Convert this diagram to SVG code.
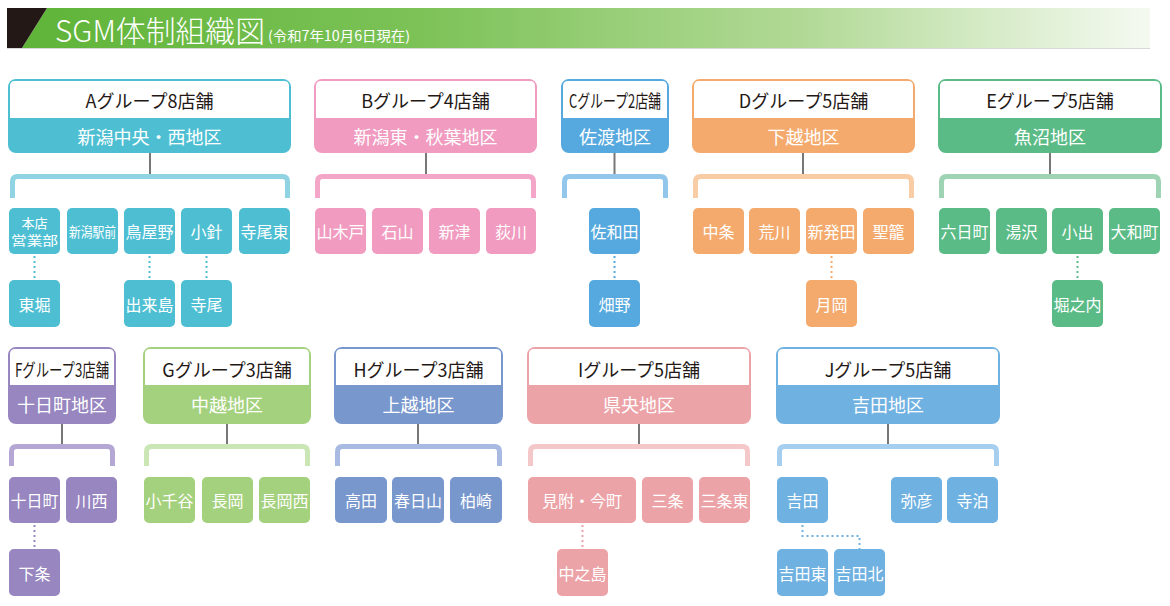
<svg xmlns="http://www.w3.org/2000/svg" width="1170" height="606" viewBox="0 0 1170 606">
<defs>
<linearGradient id="hdrG" x1="0" y1="0" x2="1" y2="0">
<stop offset="0" stop-color="#5fb438"/>
<stop offset="0.35" stop-color="#7cc257"/>
<stop offset="0.7" stop-color="#b3da98"/>
<stop offset="1" stop-color="#f5faf1"/>
</linearGradient>
</defs>
<style>
text{font-family:"Noto Sans CJK JP","Noto Sans",sans-serif;text-anchor:middle;dominant-baseline:central}
.ht{font-size:18px;fill:#231815}
.rt{font-size:18px;fill:#ffffff}
.ct{font-size:16px;fill:#ffffff}
.wh{fill:#ffffff}
.gl{stroke:#777777;stroke-width:2;fill:none}
.br{stroke-width:5;fill:none;stroke-linejoin:round}
.dt{stroke-width:2;fill:none;stroke-dasharray:2 3}
.A{fill:#4ebfd3;stroke:#4ebfd3}.Ab{stroke:#90d3e2}.Ad{stroke:#4ebfd3}
.B{fill:#f09bbf;stroke:#f09bbf}.Bb{stroke:#f3a6c7}
.C{fill:#56a9de;stroke:#56a9de}.Cb{stroke:#92c6eb}.Cd{stroke:#56a9de}
.D{fill:#f4aa6d;stroke:#f4aa6d}.Db{stroke:#f8cca5}.Dd{stroke:#f4aa6d}
.E{fill:#5abb86;stroke:#5abb86}.Eb{stroke:#9ed4b4}.Ed{stroke:#5abb86}
.F{fill:#9786bf;stroke:#9786bf}.Fb{stroke:#b4a7d3}.Fd{stroke:#9786bf}
.G{fill:#a4d17d;stroke:#a4d17d}.Gb{stroke:#cbe6b5}
.H{fill:#7897cd;stroke:#7897cd}.Hb{stroke:#a8bae2}
.I{fill:#eca3a7;stroke:#eca3a7}.Ib{stroke:#f4c7c9}.Id{stroke:#eca3a7}
.J{fill:#6fb1e1;stroke:#6fb1e1}.Jb{stroke:#a6ceee}.Jd{stroke:#6fb1e1}
.box{stroke-width:2}
.cb{stroke-width:0}
</style>

<g id="header">
<polygon points="47,8 1150,8 1150,48 22,48" fill="url(#hdrG)"/>
<polygon points="7,8 47,8 22,48 7,48" fill="#231815"/>
<line x1="7" y1="48.5" x2="1150" y2="48.5" stroke="#d8d8d8" stroke-width="1"/>
<text x="55" y="29" style="text-anchor:start;font-size:30px;font-weight:300;fill:#ffffff" textLength="210" lengthAdjust="spacingAndGlyphs">SGM体制組織図</text>
<text x="268" y="35" style="text-anchor:start;font-size:14px;fill:#ffffff" textLength="142" lengthAdjust="spacingAndGlyphs">(令和7年10月6日現在)</text>
</g>

<g id="connectors">
<line class="gl" x1="150" y1="153" x2="150" y2="175"/>
<path class="br Ab" d="M12.5,198 V181.5 Q12.5,176.5 17.5,176.5 H282.5 Q287.5,176.5 287.5,181.5 V198"/>
<line class="dt Ad" x1="34.5" y1="256" x2="34.5" y2="280"/>
<line class="dt Ad" x1="149.5" y1="256" x2="149.5" y2="280"/>
<line class="dt Ad" x1="206.5" y1="256" x2="206.5" y2="280"/>

<line class="gl" x1="426" y1="153" x2="426" y2="175"/>
<path class="br Bb" d="M317.5,198 V181.5 Q317.5,176.5 322.5,176.5 H528.5 Q533.5,176.5 533.5,181.5 V198"/>

<line class="gl" x1="614.5" y1="153" x2="614.5" y2="175"/>
<path class="br Cb" d="M564.5,198 V181.5 Q564.5,176.5 569.5,176.5 H660.5 Q665.5,176.5 665.5,181.5 V198"/>
<line class="dt Cd" x1="614.5" y1="256" x2="614.5" y2="280"/>

<line class="gl" x1="803" y1="153" x2="803" y2="175"/>
<path class="br Db" d="M695.5,198 V181.5 Q695.5,176.5 700.5,176.5 H906.5 Q911.5,176.5 911.5,181.5 V198"/>
<line class="dt Dd" x1="831.5" y1="256" x2="831.5" y2="280"/>

<line class="gl" x1="1050" y1="153" x2="1050" y2="175"/>
<path class="br Eb" d="M941.5,198 V181.5 Q941.5,176.5 946.5,176.5 H1153.5 Q1158.5,176.5 1158.5,181.5 V198"/>
<line class="dt Ed" x1="1077.5" y1="256" x2="1077.5" y2="280"/>

<line class="gl" x1="62" y1="424" x2="62" y2="445"/>
<path class="br Fb" d="M11.5,466 V451.5 Q11.5,446.5 16.5,446.5 H107.5 Q112.5,446.5 112.5,451.5 V466"/>
<line class="dt Fd" x1="34.5" y1="525" x2="34.5" y2="549"/>

<line class="gl" x1="227" y1="424" x2="227" y2="445"/>
<path class="br Gb" d="M146.5,466 V451.5 Q146.5,446.5 151.5,446.5 H302.5 Q307.5,446.5 307.5,451.5 V466"/>

<line class="gl" x1="418" y1="424" x2="418" y2="445"/>
<path class="br Hb" d="M337.5,466 V451.5 Q337.5,446.5 342.5,446.5 H494.5 Q499.5,446.5 499.5,451.5 V466"/>

<line class="gl" x1="639" y1="424" x2="639" y2="445"/>
<path class="br Ib" d="M530.5,466 V451.5 Q530.5,446.5 535.5,446.5 H742.5 Q747.5,446.5 747.5,451.5 V466"/>
<line class="dt Id" x1="582.5" y1="525" x2="582.5" y2="549"/>

<line class="gl" x1="888" y1="424" x2="888" y2="445"/>
<path class="br Jb" d="M779.5,466 V451.5 Q779.5,446.5 784.5,446.5 H991.5 Q996.5,446.5 996.5,451.5 V466"/>
<path class="dt Jd" d="M802.5,525 V536 H859.5 V549"/>
</g>

<g id="A-group">
<rect class="A box" x="9" y="80" width="281" height="72" rx="7"/>
<path class="wh" d="M10,118 V86 Q10,81 15,81 H284 Q289,81 289,86 V118 Z"/>
<text class="ht" x="149.5" y="100">Aグループ8店舗</text>
<text class="rt" x="149.5" y="136">新潟中央・西地区</text>
</g>
<g id="B-group">
<rect class="B box" x="315" y="80" width="221" height="72" rx="7"/>
<path class="wh" d="M316,118 V86 Q316,81 321,81 H530 Q535,81 535,86 V118 Z"/>
<text class="ht" x="425.5" y="100">Bグループ4店舗</text>
<text class="rt" x="425.5" y="136">新潟東・秋葉地区</text>
</g>
<g id="C-group">
<rect class="C box" x="562" y="80" width="106" height="72" rx="7"/>
<path class="wh" d="M563,118 V86 Q563,81 568,81 H662 Q667,81 667,86 V118 Z"/>
<text class="ht" x="615" y="100" textLength="92" lengthAdjust="spacingAndGlyphs">Cグループ2店舗</text>
<text class="rt" x="615" y="136">佐渡地区</text>
</g>
<g id="D-group">
<rect class="D box" x="693" y="80" width="221" height="72" rx="7"/>
<path class="wh" d="M694,118 V86 Q694,81 699,81 H908 Q913,81 913,86 V118 Z"/>
<text class="ht" x="803.5" y="100">Dグループ5店舗</text>
<text class="rt" x="803.5" y="136">下越地区</text>
</g>
<g id="E-group">
<rect class="E box" x="939" y="80" width="222" height="72" rx="7"/>
<path class="wh" d="M940,118 V86 Q940,81 945,81 H1155 Q1160,81 1160,86 V118 Z"/>
<text class="ht" x="1050" y="100">Eグループ5店舗</text>
<text class="rt" x="1050" y="136">魚沼地区</text>
</g>
<g id="F-group">
<rect class="F box" x="9" y="348" width="106" height="75" rx="7"/>
<path class="wh" d="M10,385 V354 Q10,349 15,349 H109 Q114,349 114,354 V385 Z"/>
<text class="ht" x="62" y="369" textLength="94" lengthAdjust="spacingAndGlyphs">Fグループ3店舗</text>
<text class="rt" x="62" y="404">十日町地区</text>
</g>
<g id="G-group">
<rect class="G box" x="144" y="348" width="166" height="75" rx="7"/>
<path class="wh" d="M145,385 V354 Q145,349 150,349 H304 Q309,349 309,354 V385 Z"/>
<text class="ht" x="227" y="369">Gグループ3店舗</text>
<text class="rt" x="227" y="404">中越地区</text>
</g>
<g id="H-group">
<rect class="H box" x="335" y="348" width="167" height="75" rx="7"/>
<path class="wh" d="M336,385 V354 Q336,349 341,349 H496 Q501,349 501,354 V385 Z"/>
<text class="ht" x="418.5" y="369">Hグループ3店舗</text>
<text class="rt" x="418.5" y="404">上越地区</text>
</g>
<g id="I-group">
<rect class="I box" x="528" y="348" width="222" height="75" rx="7"/>
<path class="wh" d="M529,385 V354 Q529,349 534,349 H744 Q749,349 749,354 V385 Z"/>
<text class="ht" x="639" y="369">Iグループ5店舗</text>
<text class="rt" x="639" y="404">県央地区</text>
</g>
<g id="J-group">
<rect class="J box" x="777" y="348" width="222" height="75" rx="7"/>
<path class="wh" d="M778,385 V354 Q778,349 783,349 H993 Q998,349 998,354 V385 Z"/>
<text class="ht" x="888" y="369">Jグループ5店舗</text>
<text class="rt" x="888" y="404">吉田地区</text>
</g>

<g id="A-honten"><rect class="A cb" x="9" y="208" width="51" height="46" rx="5"/><text class="ct" x="34.5" y="222.5" style="font-size:13px">本店</text><text class="ct" x="34.5" y="239.5" style="font-size:13px" textLength="47" lengthAdjust="spacingAndGlyphs">営業部</text></g>
<g id="A-niigataeki"><rect class="A cb" x="67" y="208" width="51" height="46" rx="5"/><text class="ct" x="92.5" y="231" style="font-size:14px" textLength="47" lengthAdjust="spacingAndGlyphs">新潟駅前</text></g>
<g id="A-toyano"><rect class="A cb" x="124" y="208" width="51" height="46" rx="5"/><text class="ct" x="149.5" y="231">鳥屋野</text></g>
<g id="A-kobari"><rect class="A cb" x="181" y="208" width="51" height="46" rx="5"/><text class="ct" x="206.5" y="231">小針</text></g>
<g id="A-teraohigashi"><rect class="A cb" x="239" y="208" width="51" height="46" rx="5"/><text class="ct" x="264.5" y="231">寺尾東</text></g>
<g id="A-higashibori"><rect class="A cb" x="9" y="280" width="51" height="47" rx="5"/><text class="ct" x="34.5" y="304">東堀</text></g>
<g id="A-dekijima"><rect class="A cb" x="124" y="280" width="51" height="47" rx="5"/><text class="ct" x="149.5" y="304">出来島</text></g>
<g id="A-terao"><rect class="A cb" x="181" y="280" width="51" height="47" rx="5"/><text class="ct" x="206.5" y="304">寺尾</text></g>

<g id="B-yamakido"><rect class="B cb" x="315" y="208" width="51" height="46" rx="5"/><text class="ct" x="340.5" y="231">山木戸</text></g>
<g id="B-ishiyama"><rect class="B cb" x="372" y="208" width="51" height="46" rx="5"/><text class="ct" x="397.5" y="231">石山</text></g>
<g id="B-niitsu"><rect class="B cb" x="429" y="208" width="51" height="46" rx="5"/><text class="ct" x="454.5" y="231">新津</text></g>
<g id="B-ogikawa"><rect class="B cb" x="486" y="208" width="50" height="46" rx="5"/><text class="ct" x="511" y="231">荻川</text></g>

<g id="C-sawata"><rect class="C cb" x="589" y="208" width="51" height="46" rx="5"/><text class="ct" x="614.5" y="231">佐和田</text></g>
<g id="C-hatano"><rect class="C cb" x="589" y="280" width="51" height="47" rx="5"/><text class="ct" x="614.5" y="304">畑野</text></g>

<g id="D-nakajo"><rect class="D cb" x="693" y="208" width="51" height="46" rx="5"/><text class="ct" x="718.5" y="231">中条</text></g>
<g id="D-arakawa"><rect class="D cb" x="749" y="208" width="51" height="46" rx="5"/><text class="ct" x="774.5" y="231">荒川</text></g>
<g id="D-shibata"><rect class="D cb" x="806" y="208" width="51" height="46" rx="5"/><text class="ct" x="831.5" y="231">新発田</text></g>
<g id="D-seiro"><rect class="D cb" x="863" y="208" width="51" height="46" rx="5"/><text class="ct" x="888.5" y="231">聖籠</text></g>
<g id="D-tsukioka"><rect class="D cb" x="806" y="280" width="51" height="47" rx="5"/><text class="ct" x="831.5" y="304">月岡</text></g>

<g id="E-muikamachi"><rect class="E cb" x="939" y="208" width="51" height="46" rx="5"/><text class="ct" x="964.5" y="231">六日町</text></g>
<g id="E-yuzawa"><rect class="E cb" x="996" y="208" width="51" height="46" rx="5"/><text class="ct" x="1021.5" y="231">湯沢</text></g>
<g id="E-koide"><rect class="E cb" x="1052" y="208" width="51" height="46" rx="5"/><text class="ct" x="1077.5" y="231">小出</text></g>
<g id="E-yamatomachi"><rect class="E cb" x="1109" y="208" width="51" height="46" rx="5"/><text class="ct" x="1134.5" y="231">大和町</text></g>
<g id="E-horinouchi"><rect class="E cb" x="1052" y="280" width="51" height="47" rx="5"/><text class="ct" x="1077.5" y="304">堀之内</text></g>

<g id="F-tokamachi"><rect class="F cb" x="9" y="477" width="51" height="46" rx="5"/><text class="ct" x="34.5" y="500">十日町</text></g>
<g id="F-kawanishi"><rect class="F cb" x="66" y="477" width="51" height="46" rx="5"/><text class="ct" x="91.5" y="500">川西</text></g>
<g id="F-gejo"><rect class="F cb" x="9" y="549" width="51" height="47" rx="5"/><text class="ct" x="34.5" y="573">下条</text></g>

<g id="G-ojiya"><rect class="G cb" x="144" y="477" width="51" height="46" rx="5"/><text class="ct" x="169.5" y="500">小千谷</text></g>
<g id="G-nagaoka"><rect class="G cb" x="202" y="477" width="51" height="46" rx="5"/><text class="ct" x="227.5" y="500">長岡</text></g>
<g id="G-nagaokanishi"><rect class="G cb" x="259" y="477" width="51" height="46" rx="5"/><text class="ct" x="284.5" y="500">長岡西</text></g>

<g id="H-takada"><rect class="H cb" x="335" y="477" width="52" height="46" rx="5"/><text class="ct" x="361" y="500">高田</text></g>
<g id="H-kasugayama"><rect class="H cb" x="392" y="477" width="52" height="46" rx="5"/><text class="ct" x="418" y="500">春日山</text></g>
<g id="H-kashiwazaki"><rect class="H cb" x="450" y="477" width="52" height="46" rx="5"/><text class="ct" x="476" y="500">柏崎</text></g>

<g id="I-mitsuke"><rect class="I cb" x="528" y="477" width="108" height="46" rx="5"/><text class="ct" x="582" y="500">見附・今町</text></g>
<g id="I-sanjo"><rect class="I cb" x="642" y="477" width="51" height="46" rx="5"/><text class="ct" x="667.5" y="500">三条</text></g>
<g id="I-sanjohigashi"><rect class="I cb" x="699" y="477" width="51" height="46" rx="5"/><text class="ct" x="724.5" y="500">三条東</text></g>
<g id="I-nakanoshima"><rect class="I cb" x="557" y="549" width="51" height="47" rx="5"/><text class="ct" x="582.5" y="573">中之島</text></g>

<g id="J-yoshida"><rect class="J cb" x="777" y="477" width="51" height="46" rx="5"/><text class="ct" x="802.5" y="500">吉田</text></g>
<g id="J-yahiko"><rect class="J cb" x="891" y="477" width="51" height="46" rx="5"/><text class="ct" x="916.5" y="500">弥彦</text></g>
<g id="J-teradomari"><rect class="J cb" x="947" y="477" width="51" height="46" rx="5"/><text class="ct" x="972.5" y="500">寺泊</text></g>
<g id="J-yoshidahigashi"><rect class="J cb" x="777" y="549" width="51" height="47" rx="5"/><text class="ct" x="802.5" y="573">吉田東</text></g>
<g id="J-yoshidakita"><rect class="J cb" x="834" y="549" width="51" height="47" rx="5"/><text class="ct" x="859.5" y="573">吉田北</text></g>
</svg>
